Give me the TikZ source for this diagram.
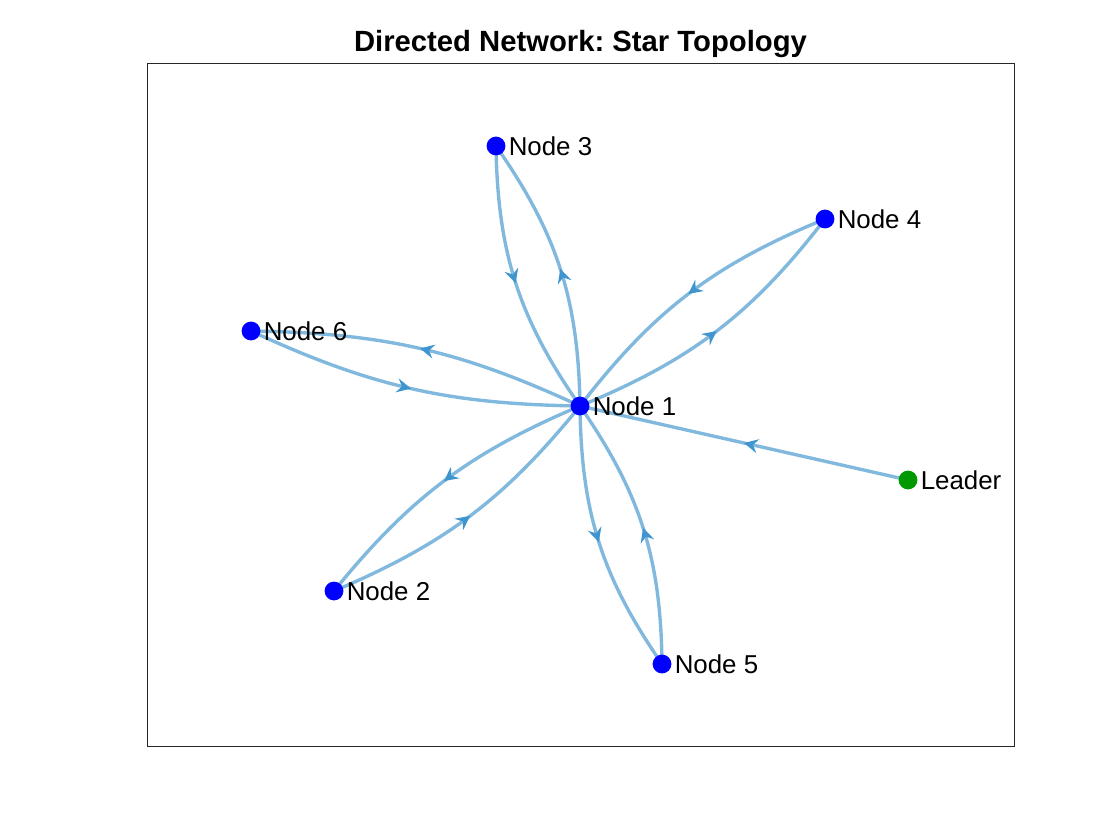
\documentclass[tikz,border=0pt]{standalone}
\usepackage{fontspec}
\setmainfont{Liberation Sans}
\frenchspacing
\usetikzlibrary{arrows.meta,decorations.markings,backgrounds}
\definecolor{edgeblue}{rgb}{0,0.447,0.741}
\definecolor{leadgreen}{rgb}{0,0.6,0}
\tikzset{
  agent/.style={circle,fill=blue,minimum size=0.47cm,inner sep=0pt},
  leader/.style={agent,fill=leadgreen},
  lbl/.style={font=\fontsize{18.4}{20}\selectfont,inner sep=0pt,label distance=2pt},
  link/.style={draw=edgeblue!50!white,line width=2.4pt,postaction={decorate},
    decoration={markings,mark=at position 0.5 with
      {\arrow[edgeblue!75!white]{Stealth[length=10pt,width=10pt,inset=3.5pt]}}}}
}
\begin{document}
\begin{tikzpicture}[x=0.025cm,y=-0.025cm]
      \useasboundingbox (0,0) rectangle (1120,840);
      \draw[black!85,line width=0.6pt] (147,63) rectangle (1014,746);
      \node[font=\fontsize{20.8}{24}\selectfont\bfseries] (title) at (580.5,44) {Directed Network: Star Topology};
      % agents
      \node[agent,label={[lbl]0:Node 1}] (n1) at (580,406) {};
      \node[agent,label={[lbl]0:Node 2}] (n2) at (334,591) {};
      \node[agent,label={[lbl]0:Node 3}] (n3) at (496,146) {};
      \node[agent,label={[lbl]0:Node 4}] (n4) at (825,219) {};
      \node[agent,label={[lbl]0:Node 5}] (n5) at (662,664) {};
      \node[agent,label={[lbl]0:Node 6}] (n6) at (251,331) {};
      \node[leader,label={[lbl]0:Leader}] (ld) at (908,480) {};
      % links
      \begin{pgfonlayer}{background}
      \draw[link] (n1.center) to[bend right=17] (n3.center);
      \draw[link] (n3.center) to[bend right=17] (n1.center);
      \draw[link] (n1.center) to[bend right=15] (n4.center);
      \draw[link] (n4.center) to[bend right=15] (n1.center);
      \draw[link] (n1.center) to[bend right=12] (n6.center);
      \draw[link] (n6.center) to[bend right=12] (n1.center);
      \draw[link] (n1.center) to[bend right=14] (n2.center);
      \draw[link] (n2.center) to[bend right=14] (n1.center);
      \draw[link] (n1.center) to[bend right=17] (n5.center);
      \draw[link] (n5.center) to[bend right=17] (n1.center);
      \draw[link] (ld.center) -- (n1.center);
      \end{pgfonlayer}
    \end{tikzpicture}
\end{document}
